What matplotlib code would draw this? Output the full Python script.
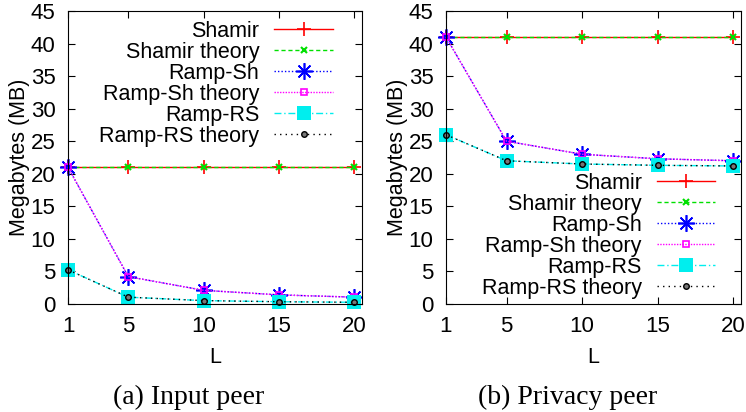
import matplotlib
matplotlib.use("Agg")
import matplotlib.pyplot as plt

plt.rcParams['font.family'] = ['Liberation Sans', 'DejaVu Sans']

L = [1, 5, 10, 15, 20]

# (a) input peer, MB
in_shamir = [21, 21, 21, 21, 21]
in_shamir_th = [21, 21, 21, 21, 21]
in_ramp_sh = [21, 4.2, 2.1, 1.4, 1.05]
in_ramp_sh_th = [21, 4.2, 2.1, 1.4, 1.05]
in_ramp_rs = [5.25, 1.05, 0.52, 0.35, 0.26]
in_ramp_rs_th = [5.25, 1.05, 0.52, 0.35, 0.26]

# (b) privacy peer, MB
pp_shamir = [41, 41, 41, 41, 41]
pp_shamir_th = [41, 41, 41, 41, 41]
pp_ramp_sh = [41, 25, 23, 22.3, 22.0]
pp_ramp_sh_th = [41, 25, 23, 22.3, 22.0]
pp_ramp_rs = [26, 22, 21.5, 21.3, 21.2]
pp_ramp_rs_th = [26, 22, 21.5, 21.3, 21.2]

labels = ["Shamir", "Shamir theory", "Ramp-Sh", "Ramp-Sh theory",
          "Ramp-RS", "Ramp-RS theory"]

styles = [
    dict(color='#ff0000', ls='-', marker='+', ms=10, mew=1.2),
    dict(color='#00e000', ls=(0, (3, 2)), marker='x', ms=4, mew=1.5),
    dict(color='#0000ff', ls=(0, (1, 1.5)), marker=(8, 2, 0), ms=12, mew=1.2),
    dict(color='#ff00ff', ls=(0, (1, 1)), marker='s', ms=4, mfc='none', mew=1.2),
    dict(color='#00eeee', ls=(0, (5, 2, 1, 2)), marker='s', ms=9.5, mew=0),
    dict(color='#000000', ls=(0, (1, 3)), marker='o', ms=4, mfc='#777777',
         mec='black', mew=1),
]

fig = plt.figure(figsize=(7.46, 4.12), dpi=100)
ax1 = fig.add_axes([68 / 746, 108 / 412, 294 / 746, 293 / 412])
ax2 = fig.add_axes([446 / 746, 108 / 412, 295 / 746, 293 / 412])

panels = [
    (ax1, [in_shamir, in_shamir_th, in_ramp_sh, in_ramp_sh_th, in_ramp_rs, in_ramp_rs_th],
     (0.9, 0.966), "(a) Input peer", 189),
    (ax2, [pp_shamir, pp_shamir_th, pp_ramp_sh, pp_ramp_sh_th, pp_ramp_rs, pp_ramp_rs_th],
     (0.912, 0.448), "(b) Privacy peer", 568),
]

for ax, series, anchor, caption, cx in panels:
    for vals, lab, st in zip(series, labels, styles):
        ax.plot(L, vals, label=lab, lw=1, clip_on=False, **st)
    ax.set_xlim(1, 20.5)
    ax.set_ylim(0, 45)
    ax.set_xticks(L)
    ax.set_yticks(range(0, 46, 5))
    ax.tick_params(direction='in', top=True, right=True, length=5,
                   labelsize=16, pad=9)
    ax.set_xlabel("L", fontsize=15.5, va='center')
    ax.set_ylabel("Megabytes (MB)", fontsize=15.5, va='center')
    ax.xaxis.set_label_coords(0.5, -0.184)
    ax.yaxis.set_label_coords(-0.165, 0.5)
    ax.legend(loc='upper right', bbox_to_anchor=anchor, frameon=False,
              markerfirst=False, fontsize=15.5, handlelength=2.7,
              handletextpad=0.7, labelspacing=0.0, borderpad=0,
              borderaxespad=0)
    fig.text(cx / 746, 15 / 412, caption, ha='center', va='center',
             family='Liberation Serif', fontsize=20)

fig.savefig("out.png", dpi=100)
